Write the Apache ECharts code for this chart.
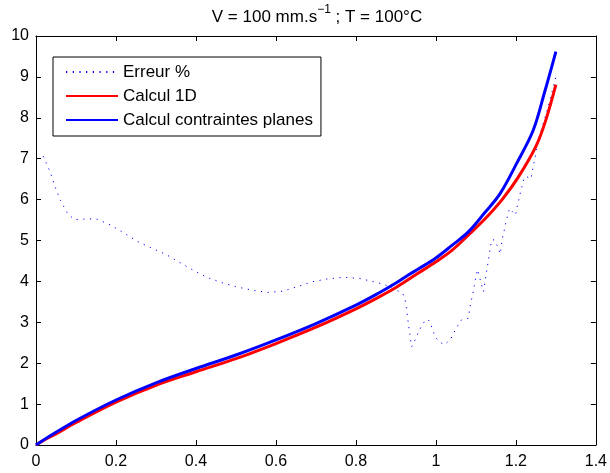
<!DOCTYPE html>
<html>
<head>
<meta charset="utf-8">
<script src="https://cdn.jsdelivr.net/npm/echarts@6/dist/echarts.min.js"></script>
<style>html,body{margin:0;padding:0;background:#fff}#c{width:610px;height:473px}</style>
</head>
<body>
<div id="c"></div>
<script>
var FONT = "'Liberation Sans', Arial, Helvetica, sans-serif";
var xTicks = [0, 0.2, 0.4, 0.6, 0.8, 1, 1.2, 1.4];
var yTicks = [0, 1, 2, 3, 4, 5, 6, 7, 8, 9, 10];
var seriesNames = ['Erreur %', 'Calcul 1D', 'Calcul contraintes planes'];

var errX = [0.018,0.035,0.047,0.061,0.080,0.097,0.133,0.153,0.188,0.222,0.255,0.290,0.325,0.358,0.392,0.427,0.464,0.500,0.539,0.578,0.617,0.653,0.690,0.728,0.770,0.810,0.845,0.870,0.898,0.917,0.923,0.927,0.931,0.935,0.939,0.948,0.956,0.964,0.975,0.983,0.991,0.997,1.007,1.022,1.037,1.045,1.054,1.064,1.081,1.087,1.092,1.095,1.100,1.104,1.109,1.114,1.119,1.124,1.130,1.136,1.140,1.147,1.155,1.161,1.166,1.170,1.175,1.184,1.192,1.199,1.203,1.211,1.221,1.230,1.238,1.243,1.248,1.253,1.265,1.280,1.300];
var errY = [7.06,6.69,6.33,5.98,5.64,5.51,5.53,5.52,5.37,5.17,4.97,4.81,4.66,4.47,4.28,4.10,3.97,3.87,3.79,3.73,3.76,3.87,3.99,4.06,4.10,4.07,3.99,3.93,3.80,3.71,3.54,3.30,2.97,2.70,2.40,2.57,2.75,2.91,3.07,3.04,2.85,2.67,2.53,2.45,2.59,2.75,2.91,3.06,3.10,3.48,3.67,3.85,4.10,4.29,4.11,3.93,3.75,4.07,4.44,4.83,5.02,5.01,4.84,4.67,5.05,5.21,5.45,5.78,5.70,5.62,5.82,6.16,6.55,6.55,6.51,6.80,7.02,7.35,7.75,8.25,9.00];

var c1dX = [0,0.02,0.05,0.1,0.2,0.3,0.4,0.5,0.6,0.7,0.8,0.856,0.9,0.957,1.0,1.04,1.081,1.123,1.164,1.206,1.251,1.275,1.3];
var c1dY = [0,0.12,0.27,0.55,1.05,1.46,1.79,2.11,2.48,2.88,3.33,3.61,3.85,4.21,4.48,4.76,5.13,5.53,5.98,6.55,7.32,7.95,8.81];

var cpX = [0,0.02,0.05,0.1,0.2,0.3,0.4,0.5,0.6,0.7,0.8,0.856,0.9,0.93,0.957,0.998,1.04,1.081,1.123,1.16,1.2016,1.243,1.271,1.3];
var cpY = [0,0.13,0.31,0.60,1.10,1.52,1.87,2.20,2.57,2.97,3.42,3.71,3.96,4.15,4.31,4.56,4.88,5.21,5.69,6.14,6.88,7.69,8.6,9.62];

function zip(xs, ys) { return xs.map(function (x, i) { return [x, ys[i]]; }); }

var chart = echarts.init(document.getElementById('c'), null, {renderer: 'canvas'});
var tickStyle = {show: true, inside: true, length: 5, lineStyle: {color: '#000', width: 1}};
var lineAx = {show: true, onZero: false, lineStyle: {color: '#000', width: 1}};
var xBase = {type: 'value', min: xTicks[0], max: xTicks[xTicks.length - 1], interval: 0.2, splitLine: {show: false}, axisLine: lineAx, axisTick: tickStyle};
var yBase = {type: 'value', min: yTicks[0], max: yTicks[yTicks.length - 1], interval: 1, splitLine: {show: false}, axisLine: lineAx, axisTick: tickStyle};

chart.setOption({
  animation: false,
  backgroundColor: '#fff',
  textStyle: {fontFamily: FONT},
  grid: {left: 36, right: 12, top: 36, bottom: 28, containLabel: false},
  xAxis: [
    Object.assign({}, xBase, {position: 'bottom', axisLabel: {show: true, margin: 9, color: '#000', fontSize: 16, fontFamily: FONT, formatter: function (v) { return String(+v.toFixed(1)); }}}),
    Object.assign({}, xBase, {position: 'top', axisLabel: {show: false}})
  ],
  yAxis: [
    Object.assign({}, yBase, {position: 'left', axisLabel: {show: true, margin: 7, color: '#000', fontSize: 16, fontFamily: FONT}}),
    Object.assign({}, yBase, {position: 'right', axisLabel: {show: false}})
  ],
  legend: {
    show: true,
    orient: 'vertical',
    left: 53, top: 57,
    data: seriesNames,
    itemWidth: 52, itemHeight: 18, itemGap: 6,
    itemStyle: {opacity: 0},
    padding: [6, 8, 7, 12],
    borderColor: '#000', borderWidth: 1, backgroundColor: '#fff',
    textStyle: {fontFamily: FONT, fontSize: 17, color: '#000', lineHeight: 18},
    selectedMode: false
  },
  graphic: [{
    type: 'text', x: 317, y: 15,
    style: {
      text: '{a|V = 100 mm.s}{s|\u22121}{a| ; T = 100\u00b0C}',
      align: 'center', verticalAlign: 'middle',
      fontFamily: FONT, fontSize: 17, fill: '#000',
      rich: {
        a: {fontFamily: FONT, fontSize: 17, fill: '#000', lineHeight: 22, verticalAlign: 'bottom'},
        s: {fontFamily: FONT, fontSize: 12, fill: '#000', lineHeight: 12, verticalAlign: 'top'}
      }
    }
  }],
  series: [
    {name: seriesNames[0], type: 'line', data: zip(errX, errY), showSymbol: false, symbol: 'none',
     lineStyle: {color: '#0000ff', width: 1, type: [1.2, 5.5]}, itemStyle: {color: '#0000ff'}, z: 2},
    {name: seriesNames[1], type: 'line', data: zip(c1dX, c1dY), showSymbol: false, symbol: 'none', smooth: 0.35,
     lineStyle: {color: '#ff0000', width: 3}, itemStyle: {color: '#ff0000'}, z: 3},
    {name: seriesNames[2], type: 'line', data: zip(cpX, cpY), showSymbol: false, symbol: 'none', smooth: 0.35,
     lineStyle: {color: '#0000ff', width: 3}, itemStyle: {color: '#0000ff'}, z: 4}
  ]
});
</script>
</body>
</html>
